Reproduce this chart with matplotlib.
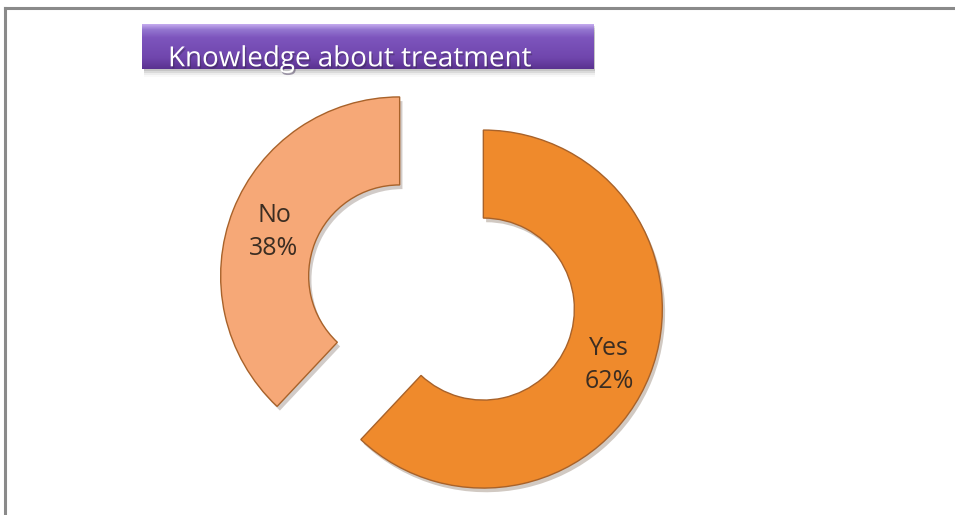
import numpy as np
import matplotlib.pyplot as plt
from matplotlib import patheffects
from matplotlib.colors import LinearSegmentedColormap
from matplotlib.lines import Line2D
from matplotlib.patches import Rectangle

labels = ['Yes', 'No']
shares = [62, 38]
colors = ['#ef8a2c', '#f6a877']
title = 'Knowledge about treatment'

W, H = 955, 515
fig = plt.figure(figsize=(W / 100, H / 100), dpi=100)
fig.patch.set_facecolor('white')

# frame lines along the top and left edge
fig.add_artist(Line2D([5 / W, 1], [1 - 8 / H] * 2, color='#8a8a8a', lw=2.2))
fig.add_artist(Line2D([5 / W] * 2, [0, 1 - 8 / H], color='#8a8a8a', lw=2.2))

# doughnut, axes in pixel units (y up)
ax = fig.add_axes([0, 0, 1, 1])
ax.set_xlim(0, W)
ax.set_ylim(0, H)
ax.set_aspect('equal')
ax.axis('off')

texts = iter(f'{l}\n{v}%' for l, v in zip(labels, shares))
wedges, _, autotexts = ax.pie(
    shares, colors=colors, startangle=90, counterclock=False,
    center=(441.5, H - 292.5), radius=179, explode=[45, 45],
    wedgeprops=dict(width=88, edgecolor='#a8622a', linewidth=1.0),
    autopct=lambda p: next(texts), pctdistance=0.755,
    textprops=dict(fontsize=18, color='#3b2d22', family='Open Sans',
                   linespacing=1.4),
    frame=False)
for w in wedges:
    w.set_path_effects([patheffects.SimplePatchShadow(offset=(2, -3), alpha=0.25),
                        patheffects.Normal()])
for t in autotexts:
    x, y = t.get_position()
    t.set_position((x, y - 6))
ax.set_xlim(0, W)
ax.set_ylim(0, H)

# title banner with vertical purple gradient and a soft shadow
bx0, bx1, by0, by1 = 142, 593, 24, 69
for k, a in enumerate([0.14, 0.10, 0.06, 0.03]):
    ax.add_patch(Rectangle((bx0 + 2, H - by1 - 2 - 2 * k), bx1 - bx0, by1 - by0,
                           facecolor='#404040', alpha=a, lw=0))
bax = fig.add_axes([bx0 / W, 1 - by1 / H, (bx1 - bx0) / W, (by1 - by0) / H])
cmap = LinearSegmentedColormap.from_list(
    'banner', [(0, '#5a3290'), (0.25, '#7046ad'), (0.7, '#7d55bd'),
               (0.88, '#9476d0'), (1, '#c4aaee')])
grad = np.linspace(0, 1, 100).reshape(-1, 1)
bax.imshow(grad, aspect='auto', cmap=cmap, origin='lower', extent=(0, 1, 0, 1))
bax.set_xlim(0, 1)
bax.set_ylim(0, 1)
bax.axis('off')
bax.text(26 / (bx1 - bx0), 0.06, title, color='white', fontsize=20,
         family='Open Sans', va='baseline', ha='left', clip_on=False,
         path_effects=[patheffects.withSimplePatchShadow(
             offset=(1, -1.5), shadow_rgbFace='#3a2a50', alpha=0.45)])

fig.savefig('out.png', dpi=100)
